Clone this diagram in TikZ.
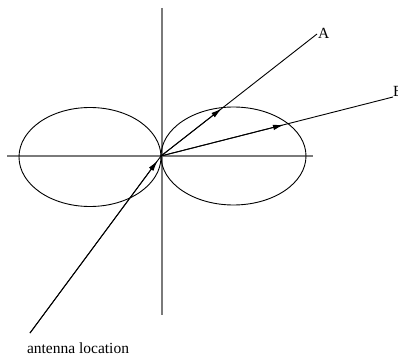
\documentclass[tikz,border=0pt]{standalone}
\usepackage{fontspec}
\setmainfont{Liberation Serif}
\usepackage{xcolor}
\usetikzlibrary{arrows.meta,calc}
\definecolor{axis}{HTML}{7A7A7A}

\begin{document}
\begin{tikzpicture}[
  x=1pt, y=-1pt,
  font=\fontsize{15.5}{18}\selectfont,
  axisline/.style={draw=axis, line width=1.2pt},
  lobe/.style={draw=black, line width=0.9pt},
  ray/.style={draw=black, line width=0.9pt},
  arr/.style={-{Latex[length=11pt,width=5.5pt]}, line width=0.9pt},
  lbl/.style={inner sep=0pt}
]
\useasboundingbox (0,0) rectangle (398,358);
\coordinate (O) at (161,156);
\coordinate (A) at (317,34);
\coordinate (B) at (393,97);
\coordinate (ant) at (30,333);
% axes
\draw[axisline] (7,156) -- (313,156);
\draw[axisline] (162,8) -- (162,315);
% radiation lobes
\draw[lobe] (90,157) ellipse [x radius=71, y radius=49.5];
\draw[lobe] (233.5,156) ellipse [x radius=72.5, y radius=49];
% rays
\draw[ray] (ant) -- (O);
\draw[ray] (O) -- (A);
\draw[ray] (O) -- (B);
\draw[arr] (ant) -- ($(ant)!0.975!(O)$);
\draw[arr] (O) -- ($(O)!0.39!(A)$);
\draw[arr] (O) -- ($(O)!0.53!(B)$);
% labels
\node[lbl, anchor=west] (labA) at (318,33) {A};
\node[lbl, anchor=west] (labB) at (393,91) {B};
\node[lbl] (labant) at (78,348) {antenna location};
\end{tikzpicture}
\end{document}
